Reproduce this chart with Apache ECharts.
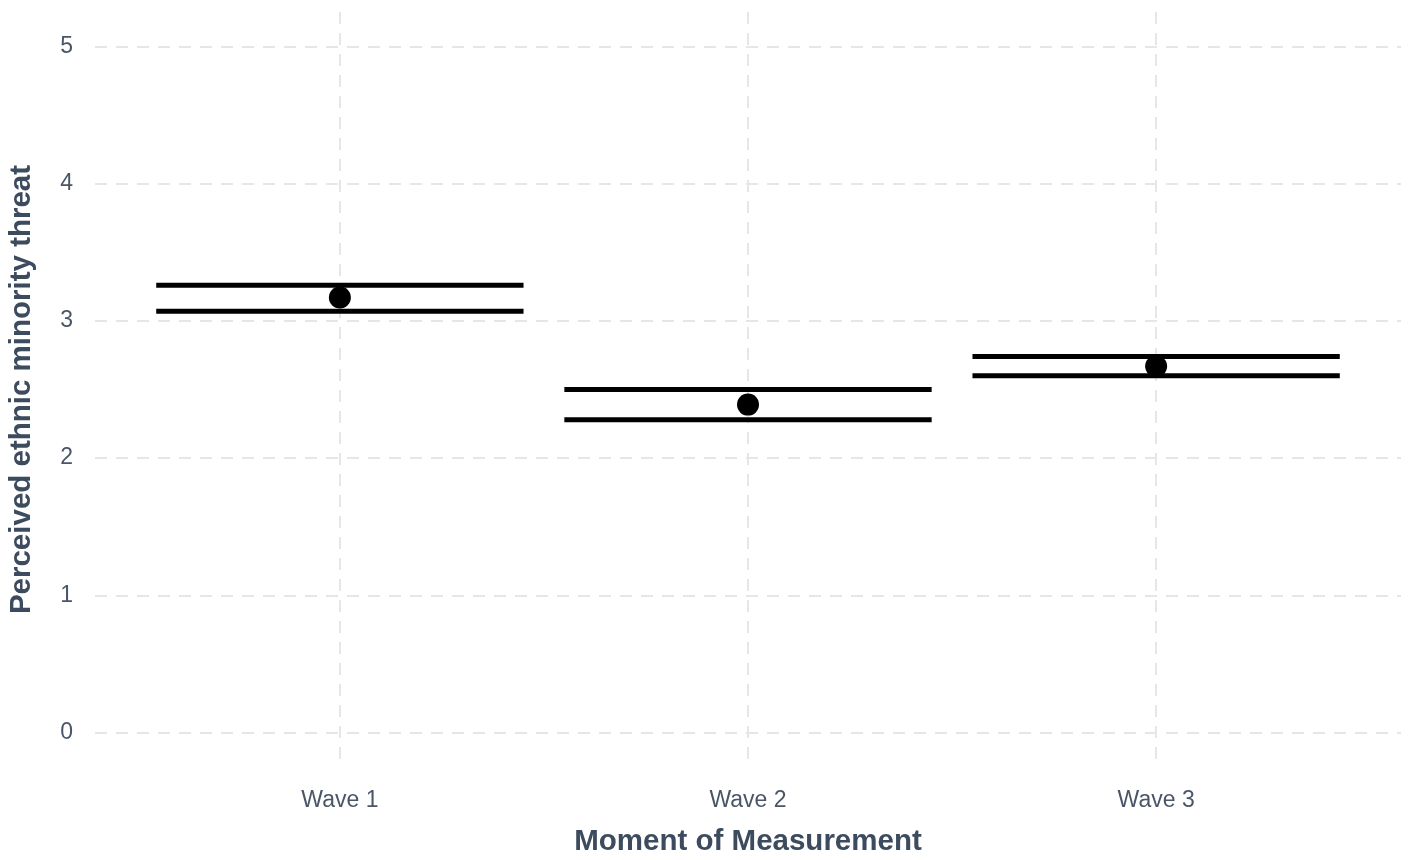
<!DOCTYPE html>
<html>
<head>
<meta charset="utf-8">
<script src="https://cdn.jsdelivr.net/npm/echarts@6/dist/echarts.min.js"></script>
<style>
  html, body { margin: 0; padding: 0; background: #fff; }
  #chart { width: 1409px; height: 860px; }
</style>
</head>
<body>
<div id="chart"></div>
<script>
// data
var waves = ['Wave 1', 'Wave 2', 'Wave 3'];
var means = [3.17, 2.39, 2.67];
var lower = [3.07, 2.28, 2.60];
var upper = [3.26, 2.50, 2.74];
var yTicks = [0, 1, 2, 3, 4, 5];

var textColor = '#3d4b5e';
var gridColor = '#e6e6e6';

var myChart = echarts.init(document.getElementById('chart'));

// x position of each wave = 1, 2, 3
var points = means.map(function (m, i) { return [i + 1, m]; });
var bars = means.map(function (m, i) { return [i + 1, lower[i], upper[i]]; });

var option = {
  backgroundColor: '#fff',
  animation: false,
  grid: { left: 95, right: 8, top: 12, bottom: 93, containLabel: false, outerBoundsMode: 'none' },
  xAxis: {
    type: 'value',
    min: 0.4,
    max: 3.6,
    name: 'Moment of Measurement',
    nameLocation: 'middle',
    nameGap: 60,
    nameTextStyle: { color: textColor, fontSize: 29.5, fontWeight: 'bold', fontFamily: 'Liberation Sans' },
    axisLine: { show: false },
    axisTick: { show: false, customValues: [1, 2, 3] },
    axisLabel: {
      customValues: [1, 2, 3],
      margin: 22,
      color: '#4a5668',
      fontSize: 23,
      fontFamily: 'Liberation Sans',
      formatter: function (v) { return waves[Math.round(v) - 1] || ''; }
    },
    splitLine: { show: true, lineStyle: { color: gridColor, width: 2, type: [12, 9] } }
  },
  yAxis: {
    type: 'value',
    min: -0.25,
    max: 5.25,
    name: 'Perceived ethnic minority threat',
    nameLocation: 'middle',
    nameGap: 58,
    nameTextStyle: { color: textColor, fontSize: 29.5, fontWeight: 'bold', fontFamily: 'Liberation Sans' },
    axisLine: { show: false },
    axisTick: { show: false, customValues: yTicks },
    axisLabel: {
      customValues: yTicks,
      margin: 22,
      color: '#4a5668',
      fontSize: 23,
      fontFamily: 'Liberation Sans'
    },
    splitLine: { show: true, lineStyle: { color: gridColor, width: 2, type: [12, 9] } }
  },
  series: [
    {
      // error bars: upper and lower horizontal lines
      type: 'custom',
      data: bars,
      renderItem: function (params, api) {
        var x = api.value(0);
        var lo = api.coord([x - 0.45, api.value(1)]);
        var loR = api.coord([x + 0.45, api.value(1)]);
        var hi = api.coord([x - 0.45, api.value(2)]);
        var hiR = api.coord([x + 0.45, api.value(2)]);
        var style = { stroke: '#000', lineWidth: 5 };
        return {
          type: 'group',
          children: [
            { type: 'line', shape: { x1: hi[0], y1: hi[1], x2: hiR[0], y2: hiR[1] }, style: style },
            { type: 'line', shape: { x1: lo[0], y1: lo[1], x2: loR[0], y2: loR[1] }, style: style }
          ]
        };
      },
      z: 2
    },
    {
      type: 'scatter',
      data: points,
      symbol: 'circle',
      symbolSize: 22,
      itemStyle: { color: '#000', opacity: 1 },
      z: 3
    }
  ]
};

myChart.setOption(option);
window.onresize = function () { myChart.resize(); };
</script>
</body>
</html>
